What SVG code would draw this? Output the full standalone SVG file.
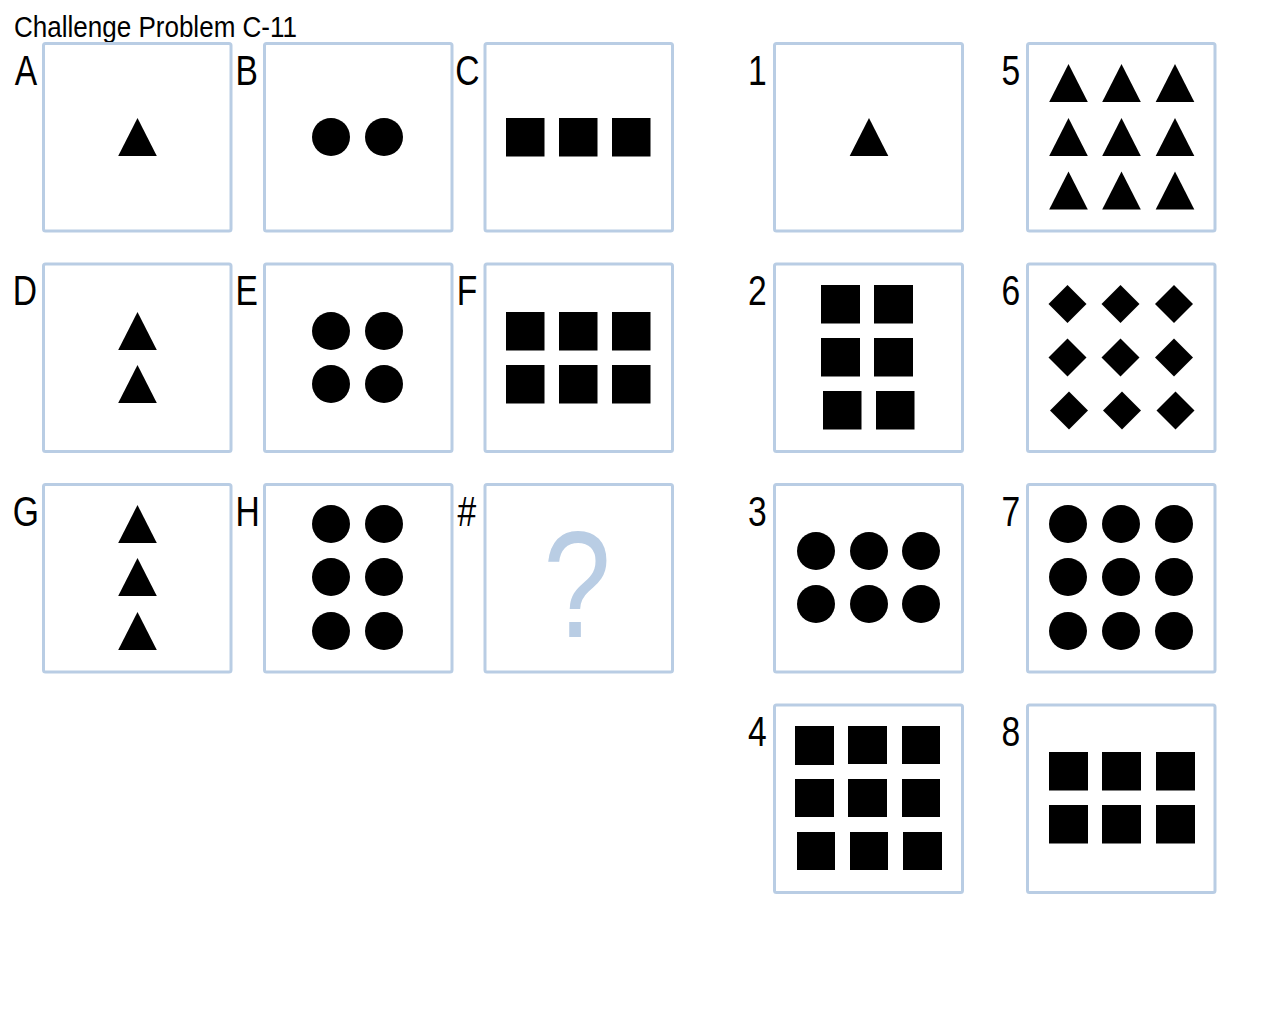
<svg xmlns="http://www.w3.org/2000/svg" xmlns:xlink="http://www.w3.org/1999/xlink" width="1280" height="1024" viewBox="0 0 1280 1024">
<style>
.box{fill:#fff;stroke:#b9cde4;stroke-width:3}
.lbl{font-family:"Liberation Sans",Arial,sans-serif;font-size:42px;fill:#000}
.sq{fill:#000}
</style>
<defs>
<path id="tri" d="M0,-19 L19.3,19 L-19.3,19 Z" fill="#000"/>
<circle id="dot" r="19" fill="#000"/>
<path id="dia" d="M0,-19 L19,0 L0,19 L-19,0 Z" fill="#000"/>
</defs>
<rect width="1280" height="1024" fill="#fff"/>
<text x="14" y="37" font-family="Liberation Sans, Arial, sans-serif" font-size="29" textLength="283" lengthAdjust="spacingAndGlyphs">Challenge Problem C-11</text>

<g id="A"><rect class="box" x="43.5" y="43.5" width="187.5" height="187.5" rx="2"/><use xlink:href="#tri" x="137.5" y="137"/></g>
<g id="B"><rect class="box" x="264.5" y="43.5" width="187.5" height="187.5" rx="2"/><use xlink:href="#dot" x="331" y="137"/><use xlink:href="#dot" x="384" y="137"/></g>
<g id="C"><rect class="box" x="485" y="43.5" width="187.5" height="187.5" rx="2"/><rect class="sq" x="506" y="118" width="38.5" height="38.5"/><rect class="sq" x="559" y="118" width="38.5" height="38.5"/><rect class="sq" x="612" y="118" width="38.5" height="38.5"/></g>

<g id="D"><rect class="box" x="43.5" y="264" width="187.5" height="187.5" rx="2"/><use xlink:href="#tri" x="137.5" y="331"/><use xlink:href="#tri" x="137.5" y="384"/></g>
<g id="E"><rect class="box" x="264.5" y="264" width="187.5" height="187.5" rx="2"/><use xlink:href="#dot" x="331" y="331"/><use xlink:href="#dot" x="384" y="331"/><use xlink:href="#dot" x="331" y="384"/><use xlink:href="#dot" x="384" y="384"/></g>
<g id="F"><rect class="box" x="485" y="264" width="187.5" height="187.5" rx="2"/><rect class="sq" x="506" y="312" width="38.5" height="38.5"/><rect class="sq" x="559" y="312" width="38.5" height="38.5"/><rect class="sq" x="612" y="312" width="38.5" height="38.5"/><rect class="sq" x="506" y="365" width="38.5" height="38.5"/><rect class="sq" x="559" y="365" width="38.5" height="38.5"/><rect class="sq" x="612" y="365" width="38.5" height="38.5"/></g>

<g id="G"><rect class="box" x="43.5" y="484.5" width="187.5" height="187.5" rx="2"/><use xlink:href="#tri" x="137.5" y="524"/><use xlink:href="#tri" x="137.5" y="577"/><use xlink:href="#tri" x="137.5" y="631"/></g>
<g id="H"><rect class="box" x="264.5" y="484.5" width="187.5" height="187.5" rx="2"/><use xlink:href="#dot" x="331" y="524"/><use xlink:href="#dot" x="384" y="524"/><use xlink:href="#dot" x="331" y="577"/><use xlink:href="#dot" x="384" y="577"/><use xlink:href="#dot" x="331" y="631"/><use xlink:href="#dot" x="384" y="631"/></g>
<g id="Q"><rect class="box" x="485" y="484.5" width="187.5" height="187.5" rx="2"/><g transform="translate(577,637) scale(0.8,1)"><text x="0" y="0" text-anchor="middle" font-family="Liberation Sans, Arial, sans-serif" font-size="152" fill="#b9cde4">?</text></g></g>

<g id="ans1"><rect class="box" x="774.5" y="43.5" width="188" height="187.5" rx="2"/><use xlink:href="#tri" x="869" y="137"/></g>
<g id="ans2"><rect class="box" x="774.5" y="264" width="188" height="187.5" rx="2"/><rect class="sq" x="821" y="285" width="39" height="38.5"/><rect class="sq" x="874" y="285" width="39" height="38.5"/><rect class="sq" x="821" y="338" width="39" height="38.5"/><rect class="sq" x="874" y="338" width="39" height="38.5"/><rect class="sq" x="823" y="391" width="38.5" height="38.5"/><rect class="sq" x="876" y="391" width="38.5" height="38.5"/></g>
<g id="ans3"><rect class="box" x="774.5" y="484.5" width="188" height="187.5" rx="2"/><use xlink:href="#dot" x="816" y="551"/><use xlink:href="#dot" x="869" y="551"/><use xlink:href="#dot" x="921" y="551"/><use xlink:href="#dot" x="816" y="604"/><use xlink:href="#dot" x="869" y="604"/><use xlink:href="#dot" x="921" y="604"/></g>
<g id="ans4"><rect class="box" x="774.5" y="705" width="188" height="187.5" rx="2"/><rect class="sq" x="795" y="726" width="39" height="39"/><rect class="sq" x="848" y="726" width="39" height="38"/><rect class="sq" x="902" y="726" width="38" height="38"/><rect class="sq" x="795" y="779" width="39" height="38"/><rect class="sq" x="848" y="779" width="39" height="38"/><rect class="sq" x="902" y="779" width="38" height="38"/><rect class="sq" x="797" y="832" width="38" height="38"/><rect class="sq" x="850" y="832" width="38" height="38"/><rect class="sq" x="903" y="832" width="39" height="38"/></g>

<g id="ans5"><rect class="box" x="1027.5" y="43.5" width="187.5" height="187.5" rx="2"/><use xlink:href="#tri" x="1068.5" y="83"/><use xlink:href="#tri" x="1121.5" y="83"/><use xlink:href="#tri" x="1175" y="83"/><use xlink:href="#tri" x="1068.5" y="137"/><use xlink:href="#tri" x="1121.5" y="137"/><use xlink:href="#tri" x="1175" y="137"/><use xlink:href="#tri" x="1068.5" y="190.5"/><use xlink:href="#tri" x="1121.5" y="190.5"/><use xlink:href="#tri" x="1175" y="190.5"/></g>
<g id="ans6"><rect class="box" x="1027.5" y="264" width="187.5" height="187.5" rx="2"/><use xlink:href="#dia" x="1067.5" y="304"/><use xlink:href="#dia" x="1120.5" y="304"/><use xlink:href="#dia" x="1174" y="304"/><use xlink:href="#dia" x="1067.5" y="357.5"/><use xlink:href="#dia" x="1120.5" y="357.5"/><use xlink:href="#dia" x="1174" y="357.5"/><use xlink:href="#dia" x="1069" y="410.5"/><use xlink:href="#dia" x="1122" y="410.5"/><use xlink:href="#dia" x="1175.5" y="410.5"/></g>
<g id="ans7"><rect class="box" x="1027.5" y="484.5" width="187.5" height="187.5" rx="2"/><use xlink:href="#dot" x="1068" y="524"/><use xlink:href="#dot" x="1121" y="524"/><use xlink:href="#dot" x="1174" y="524"/><use xlink:href="#dot" x="1068" y="577"/><use xlink:href="#dot" x="1121" y="577"/><use xlink:href="#dot" x="1174" y="577"/><use xlink:href="#dot" x="1068" y="631"/><use xlink:href="#dot" x="1121" y="631"/><use xlink:href="#dot" x="1174" y="631"/></g>
<g id="ans8"><rect class="box" x="1027.5" y="705" width="187.5" height="187.5" rx="2"/><rect class="sq" x="1049" y="752" width="39" height="38.5"/><rect class="sq" x="1102" y="752" width="39" height="38.5"/><rect class="sq" x="1156" y="752" width="39" height="38.5"/><rect class="sq" x="1049" y="805" width="39" height="38.5"/><rect class="sq" x="1102" y="805" width="39" height="38.5"/><rect class="sq" x="1156" y="805" width="39" height="38.5"/></g>

<g id="labels" transform="scale(0.8,1)">
<text class="lbl" x="18.5" y="85">A</text>
<text class="lbl" x="294.5" y="85">B</text>
<text class="lbl" x="569" y="85">C</text>
<text class="lbl" x="16" y="305">D</text>
<text class="lbl" x="294.5" y="305">E</text>
<text class="lbl" x="571" y="305">F</text>
<text class="lbl" x="16" y="526">G</text>
<text class="lbl" x="294.5" y="526">H</text>
<text class="lbl" x="572" y="526">#</text>
<text class="lbl" x="935" y="85">1</text>
<text class="lbl" x="935" y="305">2</text>
<text class="lbl" x="935" y="526">3</text>
<text class="lbl" x="935" y="746">4</text>
<text class="lbl" x="1252" y="85">5</text>
<text class="lbl" x="1252" y="305">6</text>
<text class="lbl" x="1252" y="526">7</text>
<text class="lbl" x="1252" y="746">8</text>
</g>
</svg>
